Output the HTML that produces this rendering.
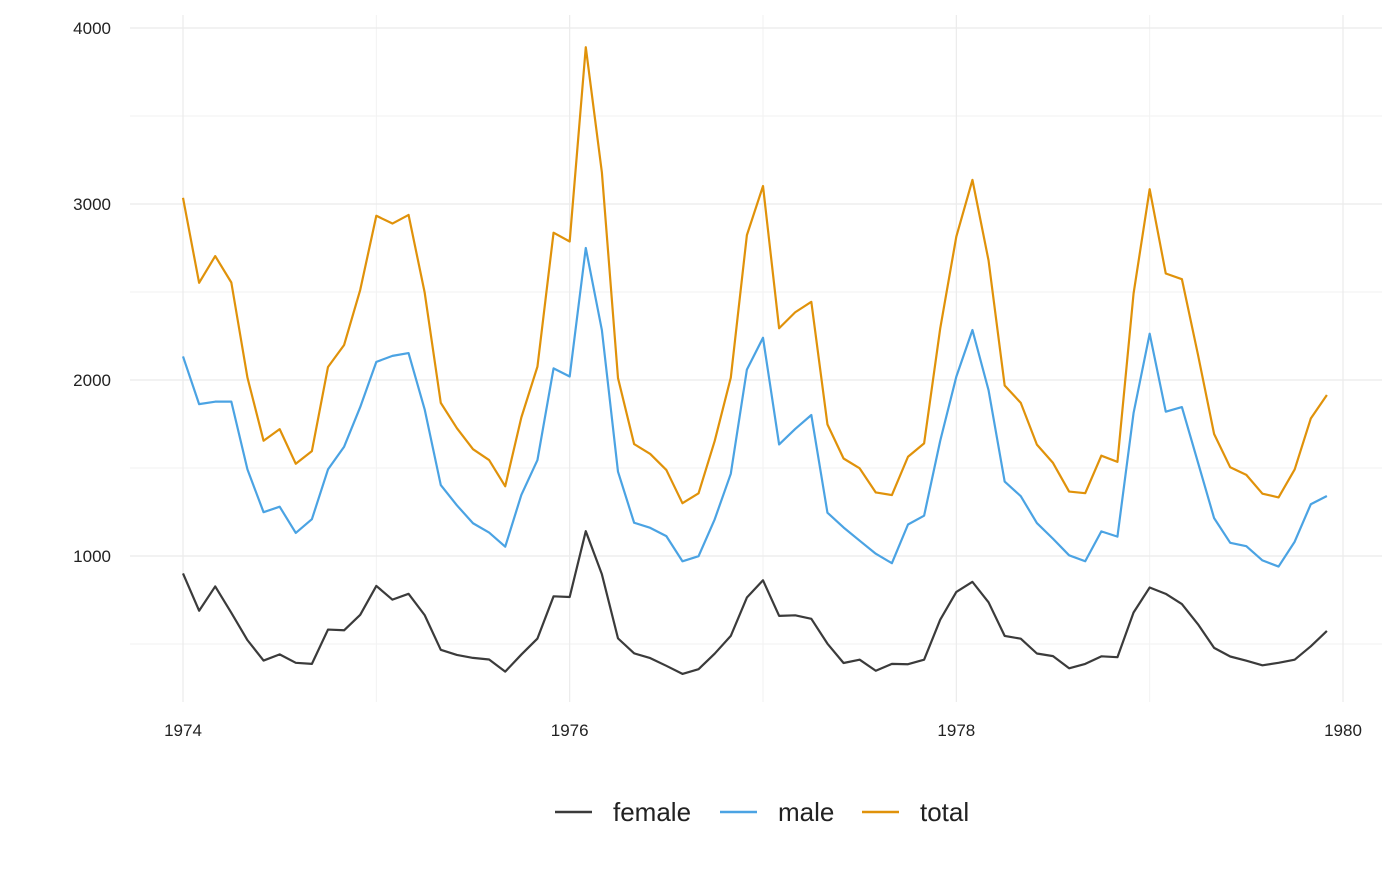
<!DOCTYPE html>
<html><head><meta charset="utf-8"><style>
body{margin:0;background:#fff;font-family:"Liberation Sans",Arial,sans-serif}
svg text{font-family:"Liberation Sans",Arial,sans-serif}
</style></head><body>
<svg width="1400" height="866" viewBox="0 0 1400 866">
<g id="grid"></g>
<g id="series"></g>
<g id="axes"></g>
<g id="legend"></g>
</svg>
<script>
const startYear = 1974;
const female = [901,689,827,677,522,406,441,393,387,582,578,666,830,752,785,664,467,438,421,412,343,440,531,771,767,1141,896,532,447,420,376,330,357,445,546,764,862,660,663,643,502,392,411,348,387,385,411,638,796,853,737,546,530,446,431,362,387,430,425,679,821,785,727,612,478,429,405,379,393,411,487,574];
const male = [2134,1863,1877,1877,1492,1249,1280,1131,1209,1492,1621,1846,2103,2137,2153,1833,1403,1288,1186,1133,1053,1347,1545,2066,2020,2750,2283,1479,1189,1160,1113,970,999,1208,1467,2059,2240,1634,1722,1801,1246,1162,1087,1013,959,1179,1229,1655,2019,2284,1942,1423,1340,1187,1098,1004,970,1140,1110,1812,2263,1820,1846,1531,1215,1075,1056,975,940,1081,1294,1341];
const total = [3035,2552,2704,2554,2014,1655,1721,1524,1596,2074,2199,2512,2933,2889,2938,2497,1870,1726,1607,1545,1396,1787,2076,2837,2787,3891,3179,2011,1636,1580,1489,1300,1356,1653,2013,2823,3102,2294,2385,2444,1748,1554,1498,1361,1346,1564,1640,2293,2815,3137,2679,1969,1870,1633,1529,1366,1357,1570,1535,2491,3084,2605,2573,2143,1693,1504,1461,1354,1333,1492,1781,1915];
const xTicks = [1974,1976,1978,1980];
const xMinor = [1975,1977,1979];
const yTicks = [1000,2000,3000,4000];
const yMinor = [500,1500,2500,3500];
const seriesNames = ["female","male","total"];
const seriesColors = ["#3b3b3b","#4ba3e3","#e0920a"];

const NS="http://www.w3.org/2000/svg";
const X = t => 183 + (t-1974)*(1343-183)/6;
const Y = v => 556 - (v-1000)*(556-28)/3000;
function mk(tag, attrs, parent){const e=document.createElementNS(NS,tag);for(const k in attrs)e.setAttribute(k,attrs[k]);parent.appendChild(e);return e;}
const grid=document.getElementById('grid'), ser=document.getElementById('series'), axes=document.getElementById('axes'), leg=document.getElementById('legend');
const L=130,R=1382,T=15,B=702;
yMinor.forEach(v=>{const l=mk('line',{x1:L,x2:R,y1:Y(v),y2:Y(v),stroke:'#f2f2f2','stroke-width':1},grid);

});
xMinor.forEach(v=>{const l=mk('line',{x1:X(v),x2:X(v),y1:T,y2:B,stroke:'#f2f2f2','stroke-width':1},grid);

});
yTicks.forEach(v=>{const l=mk('line',{x1:L,x2:R,y1:Y(v),y2:Y(v),stroke:'#ebebeb','stroke-width':1.2},grid);


const t=mk('text',{x:111,y:Y(v)+6,'text-anchor':'end','font-size':17,fill:'#222'},axes);t.textContent=v;

});
xTicks.forEach(v=>{const l=mk('line',{x1:X(v),x2:X(v),y1:T,y2:B,stroke:'#ebebeb','stroke-width':1.2},grid);


const t=mk('text',{x:X(v),y:736,'text-anchor':'middle','font-size':17,fill:'#222'},axes);t.textContent=v;

});
[female,male,total].forEach((arr,si)=>{
  const d=arr.map((v,i)=>(i?'L':'M')+X(startYear+i/12).toFixed(2)+','+Y(v).toFixed(2)).join(' ');
  const p=mk('path',{d:d,fill:'none',stroke:seriesColors[si],'stroke-width':2.2,'stroke-linejoin':'round'},ser);
  
  
});
const legX=[555,720,862];
seriesNames.forEach((n,i)=>{
  const g=mk('g',{},leg);
  
  
  mk('line',{x1:legX[i],x2:legX[i]+37,y1:812,y2:812,stroke:seriesColors[i],'stroke-width':2.5},g);
  const t=mk('text',{x:legX[i]+58,y:821,'font-size':26,fill:'#222'},g);t.textContent=n;
});
</script>
</body></html>
